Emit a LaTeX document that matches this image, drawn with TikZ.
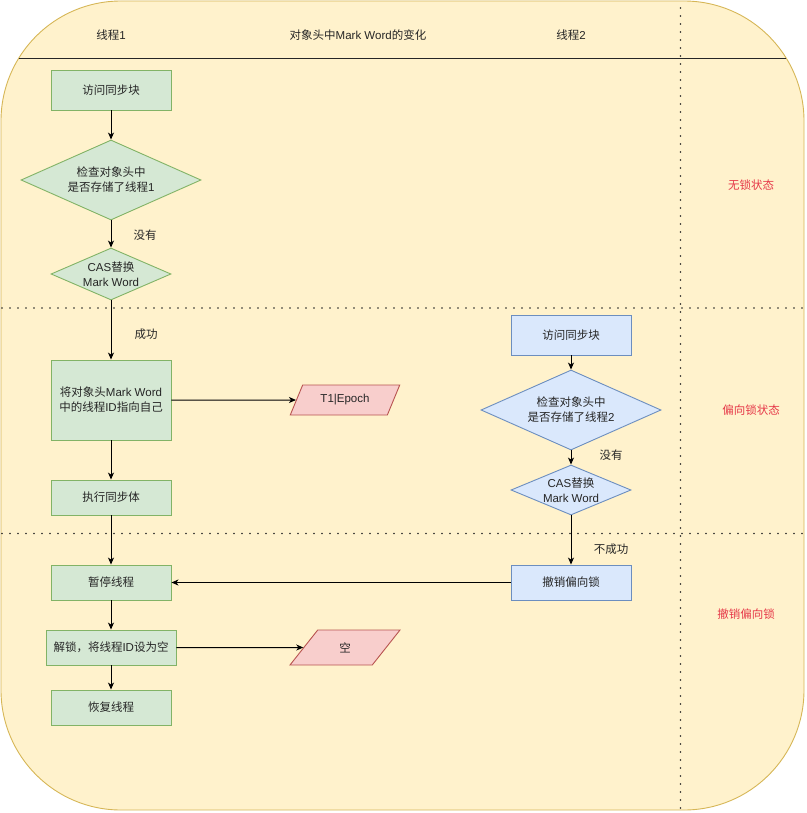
\documentclass[tikz,border=0pt]{standalone}
\usepackage{fontspec}
\setmainfont{Liberation Sans}
\newfontfamily\zhfont{Noto Sans CJK SC}
\newcommand{\zh}[1]{{\zhfont #1}}
\usetikzlibrary{shapes.geometric,arrows.meta}

\definecolor{bgfill}{HTML}{FFF2CC}
\definecolor{bgline}{HTML}{D6B656}
\definecolor{gfill}{HTML}{D5E8D4}
\definecolor{gline}{HTML}{82B366}
\definecolor{bfill}{HTML}{DAE8FC}
\definecolor{bline}{HTML}{6C8EBF}
\definecolor{rfill}{HTML}{F8CECC}
\definecolor{rline}{HTML}{B85450}
\definecolor{statered}{HTML}{E63848}

\tikzset{
  txt/.style={font=\fontsize{11.5}{15}\selectfont, align=center, text=black!85},
  gbox/.style={rectangle, draw=gline, fill=gfill, line width=0.9pt,
    minimum width=120pt, minimum height=35pt, inner sep=0pt, txt},
  bbox/.style={gbox, draw=bline, fill=bfill},
  gdia/.style={diamond, draw=gline, fill=gfill, line width=0.9pt, inner sep=0pt},
  bdia/.style={gdia, draw=bline, fill=bfill},
  rpar/.style={trapezium, trapezium stretches=true, draw=rline, fill=rfill,
    line width=0.9pt, minimum width=110pt, inner sep=0pt, txt},
  flow/.style={draw=black, line width=1pt, -{Stealth[length=7pt,width=6pt,inset=2pt]}},
  note/.style={txt},
  statelbl/.style={font=\fontsize{11.5}{15}\selectfont, text=statered},
  sep/.style={line width=1.7pt, line cap=round, dash pattern=on 0pt off 8pt, draw=black!85}
}

\begin{document}
\begin{tikzpicture}[x=1pt, y=-1pt]
  \useasboundingbox (0,0) rectangle (806,813);

  % container and lanes
  \draw[fill=bgfill, draw=bgline, line width=0.9pt, rounded corners=120pt] (1,1) rectangle (804,810);
  \draw[line width=1pt, draw=black!85] (19,59) -- (786,59);
  \draw[sep] (2,308) -- (803,308);
  \draw[sep] (2,533.5) -- (803,533.5);
  \draw[sep] (680.5,8) -- (680.5,810);

  % headings
  \node[txt] (h1) at (111,35) {\zh{线程}1};
  \node[txt] (h2) at (358,35) {\zh{对象头中}Mark Word\zh{的变化}};
  \node[txt] (h3) at (571,35) {\zh{线程}2};

  % state names
  \node[statelbl] (s1) at (751,185) {\zh{无锁状态}};
  \node[statelbl] (s2) at (751,410) {\zh{偏向锁状态}};
  \node[statelbl] (s3) at (746,614) {\zh{撤销偏向锁}};

  % thread 1
  \node[gbox, minimum height=40pt] (a1) at (111,90) {\zh{访问同步块}};
  \node[gdia, minimum width=180pt, minimum height=80pt,
        label={[txt]center:\zh{检查对象头中}\\\zh{是否存储了线程}1}] (d1) at (111,180) {};
  \node[gdia, minimum width=120pt, minimum height=52pt,
        label={[txt]center:CAS\zh{替换}\\Mark Word}] (c1) at (111,274) {};
  \node[gbox, minimum height=80pt] (r1) at (111,400) {\zh{将对象头}Mark Word\\\zh{中的线程}ID\zh{指向自己}};
  \node[rpar, minimum height=30pt, trapezium left angle=56.3, trapezium right angle=123.7] (p1) at (345,400) {T1|Epoch};
  \node[gbox] (e1) at (111,497.5) {\zh{执行同步体}};
  \node[gbox] (w1) at (111,582.5) {\zh{暂停线程}};
  \node[gbox, minimum width=130pt] (u1) at (111,647.5) {\zh{解锁，将线程}ID\zh{设为空}};
  \node[rpar, minimum height=35pt, trapezium left angle=60.3, trapezium right angle=119.7] (p2) at (345,647.5) {\zh{空}};
  \node[gbox] (f1) at (111,707.5) {\zh{恢复线程}};

  % thread 2
  \node[bbox, minimum height=40pt] (a2) at (571,335) {\zh{访问同步块}};
  \node[bdia, minimum width=180pt, minimum height=80pt,
        label={[txt]center:\zh{检查对象头中}\\\zh{是否存储了线程}2}] (d2) at (571,410) {};
  \node[bdia, minimum width=120pt, minimum height=50pt,
        label={[txt]center:CAS\zh{替换}\\Mark Word}] (c2) at (571,490) {};
  \node[bbox] (v2) at (571,582.5) {\zh{撤销偏向锁}};

  % edge labels
  \node[note] (n1) at (145,235) {\zh{没有}};
  \node[note] (n2) at (146,334) {\zh{成功}};
  \node[note] (n3) at (611,455) {\zh{没有}};
  \node[note] (n4) at (611,549) {\zh{不成功}};

  % connectors
  \draw[flow] (a1) -- (d1);
  \draw[flow] (d1) -- (c1);
  \draw[flow] (c1) -- (r1);
  \draw[flow] (r1) -- (p1);
  \draw[flow] (r1) -- (e1);
  \draw[flow] (e1) -- (w1);
  \draw[flow] (w1) -- (u1);
  \draw[flow] (u1) -- (f1);
  \draw[flow] (u1) -- (p2);
  \draw[flow] (a2) -- (d2);
  \draw[flow] (d2) -- (c2);
  \draw[flow] (c2) -- (v2);
  \draw[flow] (v2) -- (w1);
\end{tikzpicture}
\end{document}
